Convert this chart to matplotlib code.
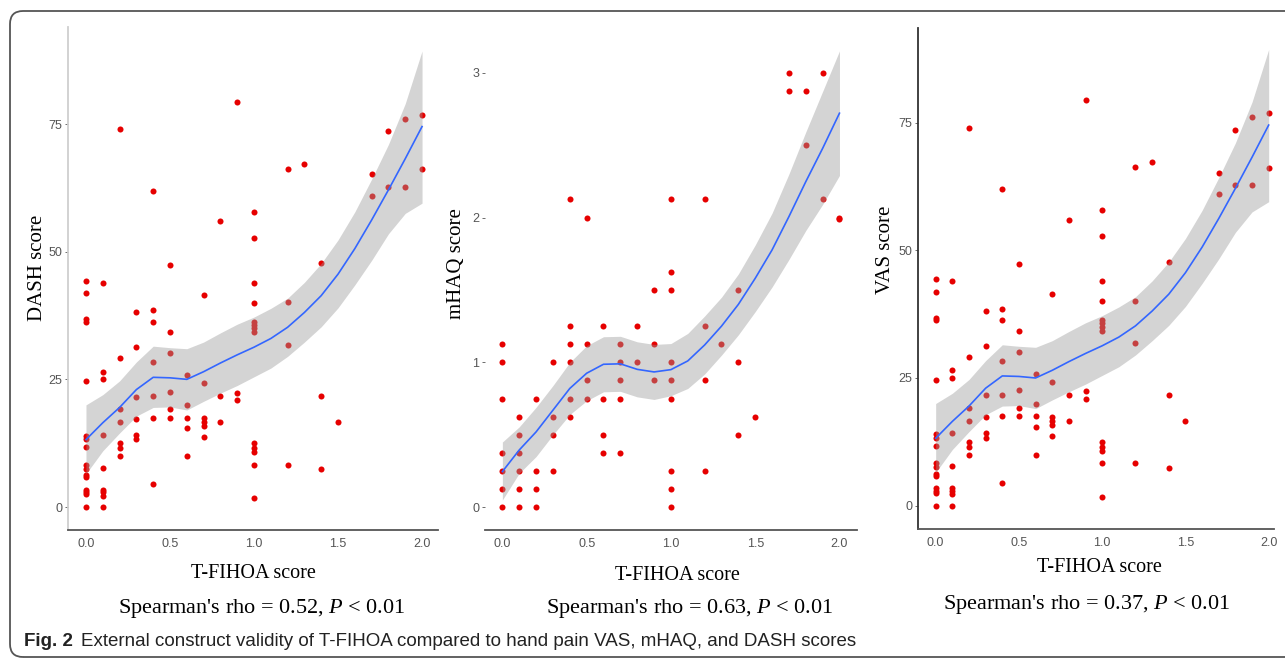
import matplotlib
matplotlib.use('Agg')
import matplotlib.pyplot as plt
from matplotlib.patches import FancyBboxPatch

# ---- data ----
# DASH panel (the VAS panel shows the very same points and fit)
dash_x = [0.2, 0.9, 0.4, 0.8, 1.0, 1.0, 1.2, 1.3, 1.4, 1.7, 1.7, 1.8, 1.8, 1.9, 1.9, 2.0, 2.0,
          0.5, 0.0, 0.0, 0.1, 0.7, 1.0, 1.0, 1.2, 0.3, 0.4, 0.4, 0.0, 0.0,
          0.5, 1.0, 1.0, 1.0, 1.0, 0.3, 0.2, 0.5, 0.4, 1.2,
          0.0, 0.1, 0.1, 0.6, 0.7,
          0.3, 0.4, 0.5, 0.2, 0.6, 0.5, 0.8, 0.9, 0.9, 1.4, 1.5,
          0.2, 0.3, 0.4, 0.5, 0.6, 0.6, 0.7, 0.7, 0.7, 0.7, 0.8,
          0.0, 0.0, 0.1, 0.0, 0.3, 0.3, 0.2, 0.2, 0.2, 0.6,
          1.0, 1.0, 1.0, 1.0, 1.2, 1.4,
          0.0, 0.0, 0.0, 0.0, 0.1,
          0.0, 0.0, 0.0, 0.1, 0.1, 0.1, 0.4, 1.0, 0.0, 0.1]
dash_y = [74.0, 79.4, 61.9, 56.0, 57.8, 52.7, 66.2, 67.2, 47.7, 65.2, 61.0, 73.6, 62.7, 76.0, 62.7, 76.8, 66.1,
          47.3, 44.3, 41.9, 43.9, 41.5, 43.9, 40.0, 40.1, 38.1, 38.5, 36.3, 36.8, 36.3,
          34.2, 36.3, 35.7, 35.0, 34.2, 31.3, 29.2, 30.1, 28.4, 31.8,
          24.7, 26.5, 25.0, 25.8, 24.2,
          21.6, 21.7, 22.6, 19.2, 20.0, 19.2, 21.7, 22.4, 20.9, 21.7, 16.6,
          16.6, 17.3, 17.5, 17.5, 17.5, 15.5, 17.4, 16.6, 15.8, 13.7, 16.6,
          14.0, 13.3, 14.2, 11.7, 14.2, 13.3, 12.5, 11.5, 10.0, 10.0,
          12.5, 11.5, 10.8, 8.3, 8.3, 7.4,
          8.3, 7.5, 6.2, 5.8, 7.7,
          3.4, 2.9, 2.5, 3.4, 2.9, 2.2, 4.5, 1.8, 0.0, 0.0]

# smoother drawn in the figure (loess fit and its confidence band)
fit_x = [0.0, 0.1, 0.2, 0.3, 0.4, 0.5, 0.6, 0.7, 0.8, 0.9, 1.0,
         1.1, 1.2, 1.3, 1.4, 1.5, 1.6, 1.7, 1.8, 1.9, 2.0]
dash_fit = [13.2, 16.5, 19.5, 23.0, 25.4, 25.3, 25.0, 26.5, 28.2, 29.8, 31.3,
            33.0, 35.2, 38.1, 41.4, 45.6, 50.6, 56.2, 62.1, 68.2, 74.5]
dash_lo = [6.5, 11.0, 14.5, 17.8, 19.5, 19.6, 19.0, 20.7, 22.3, 23.8, 25.5,
           27.2, 29.5, 32.3, 35.3, 39.0, 43.5, 48.3, 53.5, 57.5, 59.5]
dash_hi = [20.0, 22.0, 24.7, 28.4, 31.5, 31.2, 31.0, 32.3, 34.1, 35.8, 37.2,
           38.9, 40.9, 44.0, 47.7, 52.3, 57.8, 64.2, 71.0, 79.0, 89.3]

# mHAQ panel
mhaq_x = [1.7, 1.9, 1.7, 1.8, 1.8,
          0.4, 0.5, 1.0, 1.2, 1.9, 2.0, 2.0,
          1.0, 0.9, 1.0, 1.4,
          0.4, 0.6, 0.8, 1.2,
          0.0, 0.4, 0.5, 0.7, 0.9, 1.3,
          0.0, 0.3, 0.4, 0.7, 0.8, 1.0, 1.4,
          0.5, 0.7, 0.9, 1.0, 1.2,
          0.0, 0.2, 0.4, 0.5, 0.6, 0.7, 1.0,
          0.1, 0.3, 0.4, 1.5,
          0.1, 0.3, 0.6, 1.4,
          0.0, 0.1, 0.6, 0.7,
          0.0, 0.1, 0.2, 0.3, 1.0, 1.2,
          0.0, 0.1, 0.2, 1.0,
          0.0, 0.1, 0.2, 1.0]
mhaq_y = [3.0, 3.0, 2.875, 2.875, 2.5,
          2.125, 2.0, 2.125, 2.125, 2.125, 2.0, 1.99,
          1.625, 1.5, 1.5, 1.5,
          1.25, 1.25, 1.25, 1.25,
          1.125, 1.125, 1.125, 1.125, 1.125, 1.125,
          1.0, 1.0, 1.0, 1.0, 1.0, 1.0, 1.0,
          0.875, 0.875, 0.875, 0.875, 0.875,
          0.75, 0.75, 0.75, 0.75, 0.75, 0.75, 0.75,
          0.625, 0.625, 0.625, 0.625,
          0.5, 0.5, 0.5, 0.5,
          0.375, 0.375, 0.375, 0.375,
          0.25, 0.25, 0.25, 0.25, 0.25, 0.25,
          0.125, 0.125, 0.125, 0.125,
          0.0, 0.0, 0.0, 0.0]
mhaq_fit = [0.246, 0.395, 0.52, 0.67, 0.82, 0.925, 0.987, 0.99, 0.952, 0.934, 0.95,
            1.01, 1.12, 1.25, 1.40, 1.58, 1.776, 2.006, 2.247, 2.477, 2.72]
mhaq_lo = [0.05, 0.235, 0.35, 0.50, 0.64, 0.735, 0.797, 0.80, 0.762, 0.744, 0.77,
           0.82, 0.92, 1.05, 1.19, 1.35, 1.52, 1.71, 1.91, 2.09, 2.29]
mhaq_hi = [0.45, 0.555, 0.69, 0.84, 1.00, 1.115, 1.177, 1.18, 1.142, 1.124, 1.13,
           1.20, 1.32, 1.45, 1.61, 1.81, 2.03, 2.30, 2.59, 2.87, 3.15]

vas_x, vas_y = dash_x, dash_y
vas_fit, vas_lo, vas_hi = dash_fit, dash_lo, dash_hi

x_ticks = [0.0, 0.5, 1.0, 1.5, 2.0]
x_ticklabels = ['0.0', '0.5', '1.0', '1.5', '2.0']
rho = ['0.52', '0.63', '0.37']

W, H = 1285, 660
fig = plt.figure(figsize=(W / 100, H / 100), dpi=100)
fig.patch.set_facecolor('white')

plt.rcParams['mathtext.fontset'] = 'custom'
plt.rcParams['mathtext.rm'] = 'Liberation Serif'
plt.rcParams['mathtext.it'] = 'Liberation Serif:italic'

tick_font = ['Liberation Sans Narrow', 'Liberation Sans', 'DejaVu Sans']
serif = ['Liberation Serif', 'DejaVu Serif']


def px_box(l, t, r, b):
    return [l / W, 1 - b / H, (r - l) / W, (b - t) / H]


def ftext(x, y, s, **kw):
    return fig.text(x / W, 1 - y / H, s, **kw)


panels = [
    # (box, data, xlim, ylim, yticks, ylabel, left spine colour)
    ((68, 27, 438, 530), (dash_x, dash_y, dash_fit, dash_lo, dash_hi),
     (-0.107, 2.095), (-4.5, 94.0), [0, 25, 50, 75], 'DASH score', '#cfcfcf'),
    ((485, 27, 857, 530), (mhaq_x, mhaq_y, mhaq_fit, mhaq_lo, mhaq_hi),
     (-0.103, 2.104), (-0.157, 3.315), [0, 1, 2, 3], 'mHAQ score', 'none'),
    ((917.7, 28, 1274, 528.7), (vas_x, vas_y, vas_fit, vas_lo, vas_hi),
     (-0.108, 2.032), (-4.5, 93.5), [0, 25, 50, 75], 'VAS score', '#333333'),
]

for box, (px, py, fy, lo, hi), xlim, ylim, yticks, ylab, lcol in panels:
    ax = fig.add_axes(px_box(*box))
    ax.scatter(px, py, s=19, color='#e60000', lw=0, zorder=2)
    ax.fill_between(fit_x, lo, hi, color='#999999', alpha=0.42, lw=0, zorder=3)
    ax.plot(fit_x, fy, color='#3366ff', lw=1.2, zorder=4)
    ax.set_xlim(*xlim)
    ax.set_ylim(*ylim)
    ax.set_xticks(x_ticks)
    ax.set_xticklabels(x_ticklabels)
    ax.set_yticks(yticks)
    ax.set_yticklabels([str(t) for t in yticks])
    for sp in ['top', 'right']:
        ax.spines[sp].set_visible(False)
    ax.spines['bottom'].set_color('#555555')
    ax.spines['bottom'].set_linewidth(1.3)
    ax.spines['left'].set_color(lcol)
    ax.spines['left'].set_linewidth(1.3)
    ax.tick_params(axis='both', length=2, width=0.6, color='#555555',
                   labelcolor='#555555', labelsize=9, pad=2)
    ax.tick_params(axis='x', length=0, pad=6)
    for lab in ax.get_xticklabels() + ax.get_yticklabels():
        lab.set_family(tick_font)

# axis titles and statistics
ftext(253, 573, 'T-FIHOA score', family=serif, fontsize=14.5, ha='center', va='center')
ftext(677, 575, 'T-FIHOA score', family=serif, fontsize=14.5, ha='center', va='center')
ftext(1099, 568, 'T-FIHOA score', family=serif, fontsize=14.5, ha='center', va='center')
ftext(37, 268, 'DASH score', family=serif, fontsize=15, rotation=90, ha='center', va='center')
ftext(457, 264, 'mHAQ score', family=serif, fontsize=15, rotation=90, ha='center', va='center')
ftext(885, 250, 'VAS score', family=serif, fontsize=15, rotation=90, ha='center', va='center')
for cx, cy, r in zip([262, 690, 1087], [608, 608, 605], rho):
    ftext(cx, cy, "Spearman's rho = " + r + r", $\mathit{P}$ < 0.01",
          family=serif, fontsize=16, ha='center', va='center')

# rounded frame of the figure panel
frame = FancyBboxPatch((0.10, 0.03), 13.5, 6.46, boxstyle='round,pad=0,rounding_size=0.13',
                       transform=fig.dpi_scale_trans, fill=False, ec='#555555', lw=1.3)
fig.add_artist(frame)

# caption
cap_font = ['Liberation Sans Narrow', 'Liberation Sans', 'DejaVu Sans']
t1 = ftext(24, 641, 'Fig. 2', family=cap_font, fontsize=13.5, fontweight='bold',
           ha='left', va='center', color='#222222')
fig.canvas.draw()
bb = t1.get_window_extent()
ftext(bb.x1 + 8, 641, 'External construct validity of T-FIHOA compared to hand pain VAS, mHAQ, and DASH scores',
      family=cap_font, fontsize=13.5, ha='left', va='center', color='#222222')

fig.savefig('out.png', dpi=100)
